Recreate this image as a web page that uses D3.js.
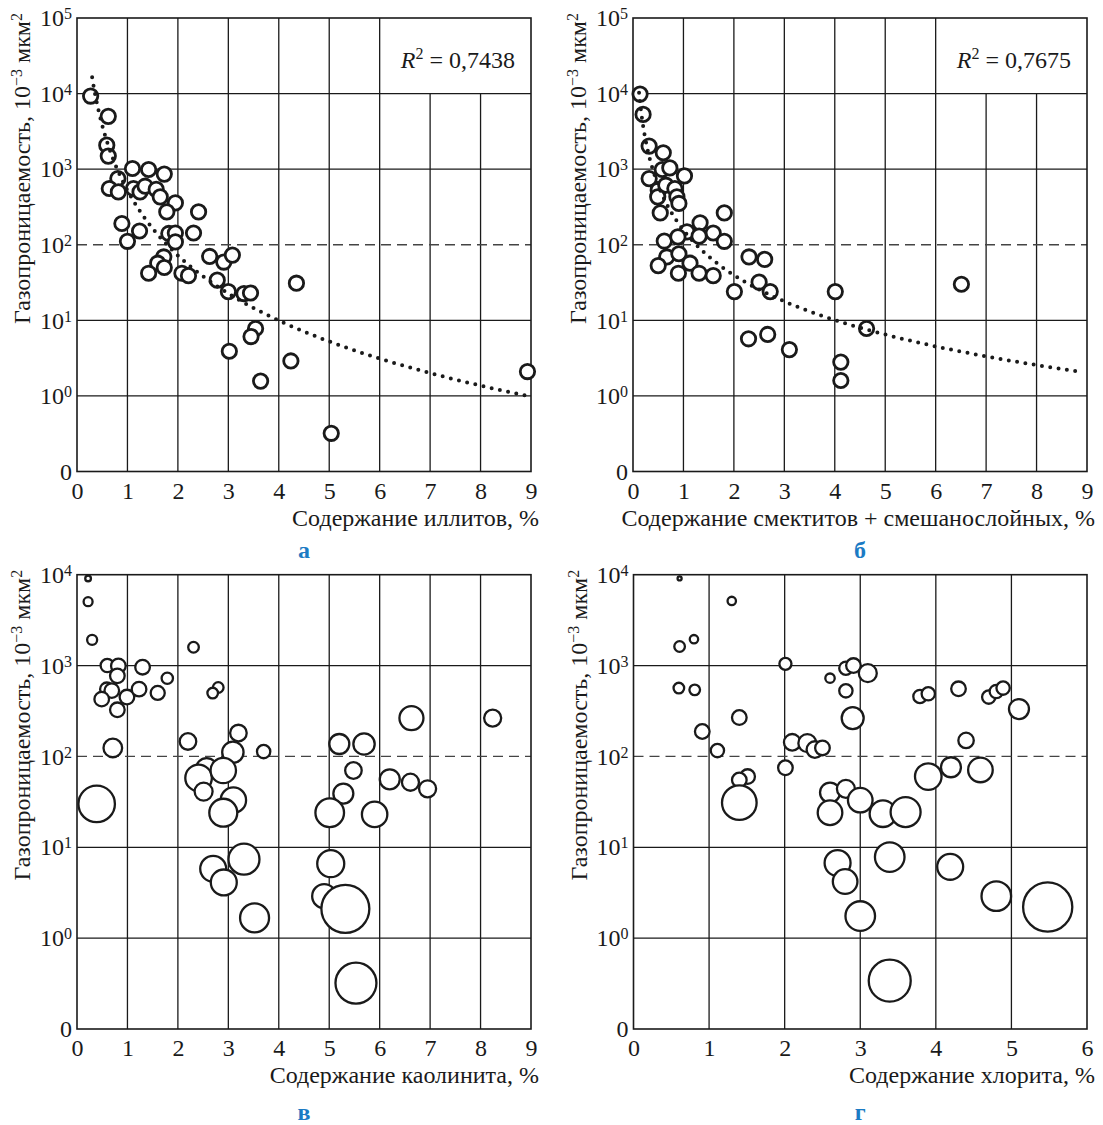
<!DOCTYPE html>
<html>
<head>
<meta charset="utf-8">
<script src="https://cdn.jsdelivr.net/npm/d3@7"></script>
<style>
  body { margin: 0; background: #fff; }
  svg text { font-family: "Liberation Serif", "Times New Roman", serif; fill: #1a1a1a; }
</style>
</head>
<body>
<svg id="chart" width="1103" height="1125"></svg>
<script>
// ---- data: gas permeability (10^-3 µm²) vs clay mineral content (%) ----

// а: illite
const illiteX = [0.27, 0.62, 0.59, 0.62, 0.81, 0.64, 0.82, 1.10, 1.42, 1.73, 1.12, 1.25, 1.35, 1.57, 1.65,
  1.95, 1.78, 2.41, 0.89, 1.24, 1.00, 1.82, 1.95, 1.95, 2.31, 1.72, 1.60, 1.73, 1.42, 2.08,
  2.21, 2.63, 2.91, 3.08, 2.78, 3.00, 3.31, 3.44, 4.35, 3.54, 3.45, 3.02, 4.24, 3.64, 5.04, 8.93];
const illiteK = [9270, 5000, 2080, 1490, 753, 555, 500, 1020, 990, 860, 555, 500, 595, 540, 430,
  358, 272, 272, 191, 152, 111, 141, 143, 109, 143, 69, 57, 50, 42, 42,
  39, 70, 59, 73, 34, 24, 22.6, 23, 31, 7.8, 6.1, 3.9, 2.9, 1.57, 0.32, 2.1];
const illiteFitCoef = [524, -2.86];      // k = a * x^b
const illiteFitRange = [0.30, 8.93];
const illiteR2 = "0,7438";

// б: smectite + mixed-layer
const smectiteX = [0.14, 0.20, 0.32, 0.60, 0.58, 0.73, 1.02, 0.32, 0.50, 0.65, 0.83, 0.49, 0.87, 0.91, 0.54,
  1.81, 1.33, 1.07, 1.59, 0.62, 0.89, 1.31, 1.81, 0.67, 0.91, 0.50, 1.13, 0.90, 1.31, 1.59,
  2.30, 2.61, 2.01, 2.50, 2.72, 4.01, 6.51, 4.63, 2.29, 2.67, 3.10, 4.12, 4.12];
const smectiteK = [9850, 5300, 2020, 1650, 990, 1040, 815, 750, 527, 614, 555, 430, 430, 352, 264,
  264, 195, 148, 143, 112, 127, 130, 111, 69, 76, 53, 57, 42, 42, 39,
  69, 64, 24, 32, 24, 24, 30, 7.8, 5.7, 6.5, 4.1, 2.8, 1.6];
const smectiteFitCoef = [156, -1.976];
const smectiteFitRange = [0.12, 8.87];
const smectiteR2 = "0,7675";

// в: kaolinite (bubble weight = third sample attribute)
const kaoliniteX = [0.22, 0.22, 0.30, 0.60, 0.82, 0.80, 1.30, 1.79, 0.59, 0.69, 0.49, 0.99, 1.23, 1.60, 0.80,
  0.71, 0.39, 2.31, 2.80, 2.69, 2.20, 3.20, 3.70, 3.09, 2.57, 2.41, 2.90, 2.51, 3.10, 2.90,
  5.20, 5.69, 5.48, 5.28, 6.20, 5.01, 5.90, 6.63, 6.61, 6.95, 8.24, 2.70, 2.91, 3.31, 3.52,
  5.03, 4.90, 5.32, 5.53];
const kaoliniteK = [9100, 5050, 1920, 1000, 990, 770, 960, 725, 550, 530, 427, 450, 550, 500, 326,
  124, 30, 1590, 573, 498, 146, 181, 113, 111, 73, 58, 70, 41, 33, 24,
  137, 137, 70, 39, 56, 24, 23, 264, 52, 44, 264, 5.8, 4.1, 7.4, 1.67,
  6.6, 2.9, 2.1, 0.32];
const kaoliniteW = [0.8, 2.0, 2.5, 4.4, 5.3, 5.3, 5.3, 3.2, 4.4, 5.3, 5.3, 5.3, 5.3, 4.9, 5.3,
  8.6, 33, 2.8, 2.8, 2.8, 6.8, 6.8, 4.4, 11.3, 11.3, 17.5, 16, 8, 16, 19.4,
  9.9, 11.3, 6.8, 9.9, 9.9, 20.3, 16, 14.3, 7.2, 7.2, 7.2, 16.7, 16.7, 23.8, 20.8,
  18.1, 14.3, 57, 41.6];

// г: chlorite
const chloriteX = [0.61, 1.30, 0.80, 0.61, 0.60, 0.81, 1.40, 0.91, 1.11, 1.51, 1.40, 1.40, 2.01, 2.10, 2.30,
  2.40, 2.50, 2.01, 2.60, 2.81, 2.91, 3.10, 2.81, 2.90, 2.60, 2.81, 2.60, 3.00, 3.30, 3.60,
  3.79, 3.90, 4.30, 4.70, 4.80, 4.89, 5.10, 4.40, 3.90, 4.20, 4.59, 2.70, 2.80, 3.00, 3.39,
  4.19, 4.80, 5.48, 3.39];
const chloriteK = [9100, 5140, 1950, 1620, 565, 540, 268, 188, 116, 60, 55, 31, 1045, 143, 140,
  119, 124, 75, 726, 935, 1000, 825, 527, 264, 40, 44, 24, 33, 23.4, 24.4,
  457, 489, 555, 450, 518, 565, 332, 150, 60, 76, 71, 6.7, 4.2, 1.75, 7.8,
  6.1, 2.9, 2.2, 0.34];
const chloriteW = [0.4, 1.75, 1.75, 2.8, 2.8, 2.8, 5.3, 5.3, 4.4, 5.3, 5.3, 29.7, 3.6, 6.8, 8,
  6.8, 5.3, 5.3, 2.2, 4.4, 5.3, 8, 4.4, 12, 9.9, 8, 15, 15, 17.5, 22.3,
  4.4, 4.4, 5.3, 4.4, 4.4, 4.4, 9.9, 5.9, 17.5, 9.9, 15, 16.7, 15, 21.7, 21.7,
  16.7, 21.7, 60, 43.7];

// axis text
const yTitle = "Газопроницаемость, 10";
const yTitleUnit = " мкм";
const xTitles = ["Содержание иллитов, %", "Содержание смектитов + смешанослойных, %",
                 "Содержание каолинита, %", "Содержание хлорита, %"];
const panelLetters = ["а", "б", "в", "г"];

// ---- drawing ----
const svg = d3.select("#chart");
const INK = "#1a1a1a";
const BLUE = "#1b7bc4";
const FS = 24, FS_SUP = 16;
const bubbleR = d3.scaleSqrt().domain([0, 60]).range([0, 24.6]);

function drawPanel(p) {
  const g = svg.append("g");
  const x = d3.scaleLinear().domain([0, p.xMax]).range([p.left, p.right]);
  const y = d3.scaleLog().domain([0.1, p.yMax]).range([p.bottom, p.top]);
  const topExp = Math.round(Math.log10(p.yMax));

  // vertical grid lines (the two right-most stop under the R² box)
  d3.range(1, p.xMax).forEach(t => {
    const y0 = (p.r2 && t >= 7) ? y(Math.pow(10, topExp - 1)) : p.top;
    g.append("line").attr("x1", x(t)).attr("x2", x(t)).attr("y1", y0).attr("y2", p.bottom)
      .attr("stroke", INK).attr("stroke-width", 1.3);
  });
  // horizontal grid lines; 10² is the dashed threshold
  d3.range(0, topExp).forEach(e => {
    const v = Math.pow(10, e);
    const ln = g.append("line").attr("x1", p.left).attr("x2", p.right)
      .attr("y1", y(v)).attr("y2", y(v));
    if (e === 2) ln.attr("stroke", "#444").attr("stroke-width", 1.3).attr("stroke-dasharray", "10 6");
    else ln.attr("stroke", INK).attr("stroke-width", 1.3);
  });
  // frame
  g.append("rect").attr("x", p.left).attr("y", p.top)
    .attr("width", p.right - p.left).attr("height", p.bottom - p.top)
    .attr("fill", "none").attr("stroke", INK).attr("stroke-width", 1.6);

  // x axis
  const ax = g.append("g").attr("transform", `translate(0,${p.bottom})`)
    .call(d3.axisBottom(x).tickValues(d3.range(0, p.xMax + 1)).tickSize(0).tickPadding(10)
      .tickFormat(d3.format("d")));
  ax.select(".domain").remove();
  ax.selectAll("text").attr("font-size", FS).attr("fill", INK);

  // y axis: 0, 10^0 ... 10^n
  const yTicks = d3.range(-1, topExp + 1).map(e => Math.pow(10, e));
  const ay = g.append("g").attr("transform", `translate(${p.left},0)`)
    .call(d3.axisLeft(y).tickValues(yTicks).tickSize(0).tickPadding(5).tickFormat(() => ""));
  ay.select(".domain").remove();
  ay.selectAll("text").each(function(d) {
    const t = d3.select(this).attr("font-size", FS).attr("fill", INK);
    const e = Math.round(Math.log10(d));
    if (e < 0) { t.text("0"); return; }
    t.append("tspan").text("10");
    t.append("tspan").attr("font-size", FS_SUP).attr("dy", -7).text(String(e));
  });

  // y title
  const yt = g.append("text")
    .attr("transform", `translate(${p.left - 47},${p.top - 5}) rotate(-90)`)
    .attr("text-anchor", "end").attr("font-size", FS);
  yt.append("tspan").text(yTitle);
  yt.append("tspan").attr("font-size", FS_SUP).attr("dy", -8).text("−3");
  yt.append("tspan").attr("dy", 8).text(yTitleUnit);
  yt.append("tspan").attr("font-size", FS_SUP).attr("dy", -8).text("2");

  // x title
  g.append("text").attr("x", p.right + 8).attr("y", p.bottom + 54)
    .attr("text-anchor", "end").attr("font-size", FS).text(p.xTitle);

  // panel letter
  g.append("text").attr("x", (p.left + p.right) / 2).attr("y", p.letterY)
    .attr("text-anchor", "middle").attr("font-size", FS).attr("font-weight", "bold")
    .style("fill", BLUE).text(p.letter);

  // points
  const pts = p.xs.map((v, i) => ({ x: v, k: p.ks[i], w: p.ws ? p.ws[i] : null }));
  g.append("g").selectAll("circle").data(pts).join("circle")
    .attr("cx", d => x(d.x)).attr("cy", d => y(d.k))
    .attr("r", d => d.w == null ? 7.2 : bubbleR(d.w))
    .attr("fill", "#fff").attr("stroke", INK)
    .attr("stroke-width", p.ws ? 2.3 : 2.8);

  // power-law trend and R²
  if (p.fit) {
    const [a, b] = p.fit;
    const xsFit = d3.range(p.fitRange[0], p.fitRange[1], 0.005).concat([p.fitRange[1]]);
    const line = d3.line().x(v => x(v)).y(v => y(a * Math.pow(v, b)));
    g.append("path").attr("d", line(xsFit)).attr("fill", "none")
      .attr("stroke", INK).attr("stroke-width", 4).attr("stroke-linecap", "round")
      .attr("stroke-dasharray", "0 8.4");

    const rt = g.append("text").attr("x", p.right - 16).attr("y", p.top + 50)
      .attr("text-anchor", "end").attr("font-size", FS);
    rt.append("tspan").attr("font-style", "italic").text("R");
    rt.append("tspan").attr("font-size", FS_SUP).attr("dy", -9).text("2");
    rt.append("tspan").attr("dy", 9).text(" = " + p.r2);
  }
}

drawPanel({ left: 77, right: 531, top: 18, bottom: 471.5, xMax: 9, yMax: 1e5,
  xs: illiteX, ks: illiteK, fit: illiteFitCoef, fitRange: illiteFitRange, r2: illiteR2,
  xTitle: xTitles[0], letter: panelLetters[0], letterY: 558 });
drawPanel({ left: 633, right: 1087, top: 18, bottom: 471.5, xMax: 9, yMax: 1e5,
  xs: smectiteX, ks: smectiteK, fit: smectiteFitCoef, fitRange: smectiteFitRange, r2: smectiteR2,
  xTitle: xTitles[1], letter: panelLetters[1], letterY: 558 });
drawPanel({ left: 77, right: 531, top: 574.7, bottom: 1029, xMax: 9, yMax: 1e4,
  xs: kaoliniteX, ks: kaoliniteK, ws: kaoliniteW,
  xTitle: xTitles[2], letter: panelLetters[2], letterY: 1120 });
drawPanel({ left: 633.5, right: 1087, top: 574.7, bottom: 1029, xMax: 6, yMax: 1e4,
  xs: chloriteX, ks: chloriteK, ws: chloriteW,
  xTitle: xTitles[3], letter: panelLetters[3], letterY: 1120 });
</script>
</body>
</html>
